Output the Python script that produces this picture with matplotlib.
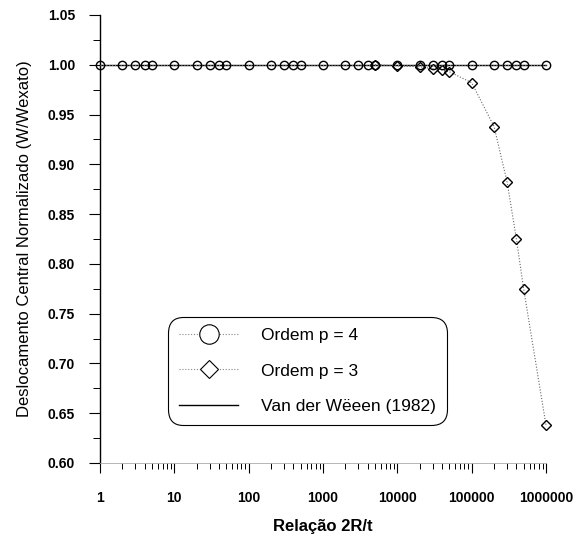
import matplotlib

matplotlib.use("Agg")

import matplotlib.pyplot as plt
from matplotlib.lines import Line2D
from matplotlib.ticker import FixedLocator, LogLocator, NullFormatter

plt.rcParams["font.family"] = ["Liberation Sans", "DejaVu Sans"]

# relacao 2R/t
ratio = [1, 2, 3, 4, 5, 10, 20, 30, 40, 50, 100, 200, 300, 400, 500,
         1000, 2000, 3000, 4000, 5000, 10000, 20000, 30000, 40000, 50000,
         100000, 200000, 300000, 400000, 500000, 1000000]
ordem_p4 = [1.000] * len(ratio)

ratio_p3 = [5000, 10000, 20000, 30000, 40000, 50000,
            100000, 200000, 300000, 400000, 500000, 1000000]
ordem_p3 = [1.000, 0.999, 0.998, 0.996, 0.995, 0.993,
            0.982, 0.938, 0.882, 0.825, 0.775, 0.638]

ref_x = [1, 1000000]
ref_y = [1.0, 1.0]

y_ticks = [0.60, 0.65, 0.70, 0.75, 0.80, 0.85, 0.90, 0.95, 1.00, 1.05]
x_ticks = [1, 10, 100, 1000, 10000, 100000, 1000000]
x_labels = ["1", "10", "100", "1000", "10000", "100000", "1000000"]

fig = plt.figure(figsize=(5.75, 5.34), dpi=100)
ax = fig.add_axes([100 / 575, 1 - 463 / 534, 446 / 575, 448 / 534])

dot = (0, (1, 1.6))
ax.plot(ratio_p3, ordem_p3, color="#666666", lw=0.8, ls=dot, marker="D",
        ms=5.3, mfc="none", mec="black", mew=1.0, clip_on=False, zorder=3)
ax.plot(ref_x, ref_y, color="black", lw=1.0, clip_on=False, zorder=4)
ax.plot(ratio, ordem_p4, color="#777777", lw=0.8, ls=dot, marker="o",
        ms=6, mfc="none", mec="black", mew=1.0, clip_on=False, zorder=5)

ax.set_xscale("log")
ax.set_xlim(1, 1000000)
ax.set_ylim(0.60, 1.05)

ax.xaxis.set_major_locator(FixedLocator(x_ticks))
ax.set_xticklabels(x_labels, fontsize=10, fontweight="bold")
ax.xaxis.set_minor_locator(LogLocator(base=10, subs=range(2, 10), numticks=20))
ax.xaxis.set_minor_formatter(NullFormatter())

ax.set_yticks(y_ticks)
ax.set_yticklabels([f"{v:.2f}" for v in y_ticks], fontsize=10, fontweight="bold")
ax.yaxis.set_minor_locator(FixedLocator([v + 0.025 for v in y_ticks[:-1]]))

ax.tick_params(axis="x", which="major", direction="out", length=7, width=0.8, pad=13)
ax.tick_params(axis="x", which="minor", direction="out", length=4, width=0.7)
ax.tick_params(axis="y", which="major", direction="out", length=8, width=0.8, pad=10)
ax.tick_params(axis="y", which="minor", direction="out", length=5, width=0.7)

for side in ("top", "right"):
    ax.spines[side].set_visible(False)
ax.spines["left"].set_linewidth(1.0)
ax.spines["bottom"].set_color("#aaaaaa")
ax.spines["bottom"].set_linewidth(0.6)

ax.set_xlabel("Relação 2R/t", fontsize=12, fontweight="bold", labelpad=10)
ax.set_ylabel("Deslocamento Central Normalizado (W/Wexato)", fontsize=12, labelpad=11)

handles = [
    Line2D([0], [0], color="#888888", lw=0.8, ls=dot, marker="o", ms=14,
           mfc="white", mec="black", mew=0.8, label="Ordem p = 4"),
    Line2D([0], [0], color="#888888", lw=0.8, ls=dot, marker="D", ms=9,
           mfc="white", mec="black", mew=0.8, label="Ordem p = 3"),
    Line2D([0], [0], color="black", lw=1.0, label="Van der Wëeen (1982)"),
]
leg = ax.legend(handles=handles, loc="lower left", bbox_to_anchor=(0.152, 0.085),
                borderaxespad=0, fontsize=12.5, handlelength=3.4, handletextpad=1.3,
                labelspacing=1.15, borderpad=0.65, fancybox=True, framealpha=1)
frame = leg.get_frame()
frame.set_edgecolor("black")
frame.set_linewidth(0.8)
frame.set_boxstyle("round", pad=0, rounding_size=0.9)

fig.savefig("out.png", dpi=100)
